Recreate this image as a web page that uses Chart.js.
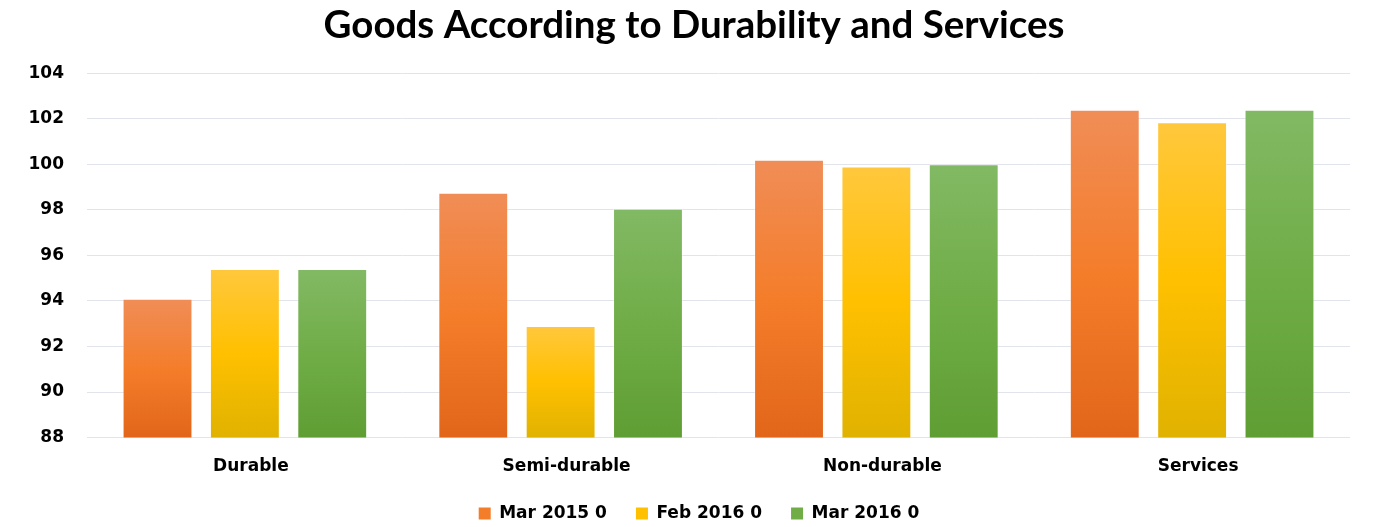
<!DOCTYPE html>
<html>
<head>
<meta charset="utf-8">
<script src="https://cdn.jsdelivr.net/npm/chart.js@4"></script>
<style>
html, body { margin: 0; padding: 0; background: #ffffff; }
#wrap { width: 1386px; height: 527px; position: relative; }
</style>
</head>
<body>
<div id="wrap"><canvas id="chart"></canvas></div>
<script>
const categories = ['Durable', 'Semi-durable', 'Non-durable', 'Services'];
const seriesNames = ['Mar 2015 0', 'Feb 2016 0', 'Mar 2016 0'];
const mar2015 = [94.1, 98.75, 100.2, 102.4];
const feb2016 = [95.4, 92.9, 99.9, 101.85];
const mar2016 = [95.4, 98.05, 100.0, 102.4];
const yTicks = [88, 90, 92, 94, 96, 98, 100, 102, 104];

// top, middle, bottom stops per series
const palettes = [
  ['#f08d57', '#f47d2a', '#e2661a'],
  ['#ffc83d', '#ffc000', '#e0b200'],
  ['#82b964', '#70ad47', '#5f9e33']
];

function barGradient(idx) {
  return function(ctx) {
    const chart = ctx.chart;
    const pal = palettes[idx];
    if (!chart.chartArea || !chart.scales.y || ctx.raw == null) return pal[1];
    const y = chart.scales.y;
    const top = y.getPixelForValue(ctx.raw);
    const bottom = y.getPixelForValue(y.min);
    if (!isFinite(top) || !isFinite(bottom) || top === bottom) return pal[1];
    const g = chart.ctx.createLinearGradient(0, top, 0, bottom);
    g.addColorStop(0, pal[0]);
    g.addColorStop(0.5, pal[1]);
    g.addColorStop(1, pal[2]);
    return g;
  };
}

const values = [mar2015, feb2016, mar2016];
const datasets = values.map(function(v, i) {
  return {
    label: seriesNames[i],
    data: v,
    backgroundColor: barGradient(i),
    borderColor: 'rgba(255,255,255,0.3)',
    borderWidth: 1,
    borderSkipped: false,
    categoryPercentage: 0.83,
    barPercentage: 0.8
  };
});

const labelFont = { family: '"DejaVu Sans", Verdana, sans-serif', size: 17, weight: 'bold' };

// pull the legend closer to the axis labels, and centre title/legend like the original
const blockNudge = {
  id: 'blockNudge',
  afterLayout: function(chart) {
    const l = chart.legend;
    if (l) { l.top -= 20; l.bottom -= 20; l.left += 10; l.right += 10; }
    const t = chart.titleBlock;
    if (t) { t.left += 5; t.right += 5; }
  }
};

new Chart(document.getElementById('chart'), {
  type: 'bar',
  data: { labels: categories, datasets: datasets },
  plugins: [blockNudge],
  options: {
    responsive: true,
    maintainAspectRatio: false,
    animation: false,
    layout: { padding: { left: 28, right: 36, top: 2, bottom: -25 } },
    plugins: {
      title: {
        display: true,
        text: 'Goods According to Durability and Services',
        color: '#000000',
        font: { family: 'Lato, "Open Sans", sans-serif', size: 38.5, weight: 'bold' },
        padding: { top: 0, bottom: 25 }
      },
      legend: {
        position: 'bottom',
        labels: {
          color: '#000000',
          boxWidth: 12,
          boxHeight: 12,
          padding: 29,
          font: labelFont,
          generateLabels: function(chart) {
            return seriesNames.map(function(n, i) {
              return { text: n, fillStyle: palettes[i][1], strokeStyle: palettes[i][1], lineWidth: 0, datasetIndex: i };
            });
          }
        }
      },
      tooltip: { enabled: false }
    },
    scales: {
      x: {
        grid: { display: false, drawTicks: false },
        border: { display: false },
        ticks: { color: '#000000', padding: 19, labelOffset: 6, font: labelFont }
      },
      y: {
        min: 88,
        max: 104,
        afterBuildTicks: function(axis) {
          axis.ticks = yTicks.map(function(v) { return { value: v }; });
        },
        afterFit: function(axis) { axis.width = 59; },
        grid: { color: '#e1e4eb', lineWidth: 1, drawTicks: false },
        border: { display: false },
        ticks: { color: '#000000', padding: 23, font: labelFont }
      }
    }
  }
});
</script>
</body>
</html>
